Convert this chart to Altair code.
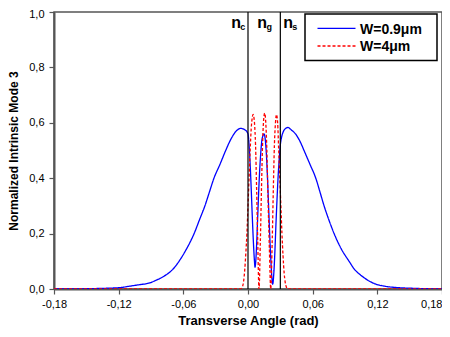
import altair as alt
import pandas as pd

# W=0.9um (blue, solid)
blue_x = [-0.18, -0.15, -0.13, -0.119, -0.11, -0.1, -0.093, -0.085, -0.0764, -0.07, -0.064,
          -0.057, -0.05, -0.045, -0.04, -0.0358, -0.0316, -0.026, -0.0207, -0.016, -0.011,
          -0.0068, -0.003, 0.0, 0.001, 0.002, 0.003, 0.004, 0.005, 0.006, 0.0065, 0.007,
          0.008, 0.009, 0.010, 0.011, 0.012, 0.013, 0.0149, 0.016, 0.017, 0.018, 0.019,
          0.020, 0.021, 0.022, 0.0229, 0.024, 0.025, 0.026, 0.027, 0.028, 0.029, 0.030,
          0.031, 0.033, 0.035, 0.0371, 0.040, 0.044, 0.048, 0.052, 0.0575, 0.0629, 0.0668,
          0.0706, 0.075, 0.0799, 0.0865, 0.0938, 0.099, 0.1046, 0.111, 0.117, 0.127, 0.139,
          0.15, 0.165, 0.18]
blue_y = [0.0, 0.001, 0.003, 0.005, 0.01, 0.016, 0.02, 0.032, 0.05, 0.07, 0.1,
          0.145, 0.2, 0.25, 0.3, 0.35, 0.4, 0.45, 0.5, 0.54, 0.57,
          0.58, 0.575, 0.56, 0.52, 0.45, 0.36, 0.26, 0.17, 0.1, 0.079, 0.09,
          0.16, 0.26, 0.36, 0.44, 0.5, 0.54, 0.56, 0.54, 0.49, 0.41, 0.31,
          0.21, 0.12, 0.05, 0.017, 0.06, 0.14, 0.24, 0.33, 0.41, 0.47, 0.52,
          0.545, 0.57, 0.58, 0.583, 0.575, 0.56, 0.535, 0.5, 0.45, 0.4, 0.35,
          0.3, 0.25, 0.2, 0.145, 0.1, 0.07, 0.05, 0.032, 0.02, 0.01, 0.005,
          0.003, 0.001, 0.0]

# W=4um (red, dashed)
red_x = [-0.18, -0.007, -0.005, -0.004, -0.003, -0.002, -0.001, 0.0, 0.001, 0.002, 0.003,
         0.004, 0.0047, 0.006, 0.007, 0.008, 0.009, 0.0102, 0.0115, 0.0125, 0.0135, 0.0145,
         0.0155, 0.0165, 0.0175, 0.0185, 0.0198, 0.0211, 0.0225, 0.0235, 0.0245, 0.0255,
         0.0264, 0.0275, 0.0285, 0.0295, 0.0305, 0.0315, 0.0325, 0.0335, 0.0345, 0.0355,
         0.0366, 0.18]
red_y = [0.0, 0.0, 0.01, 0.03, 0.07, 0.13, 0.2, 0.3, 0.4, 0.5, 0.58,
         0.62, 0.63, 0.6, 0.52, 0.36, 0.18, 0.0, 0.18, 0.36, 0.52, 0.61,
         0.635, 0.6, 0.5, 0.34, 0.15, 0.0, 0.18, 0.36, 0.52, 0.6,
         0.63, 0.6, 0.5, 0.4, 0.3, 0.2, 0.12, 0.06, 0.025, 0.008,
         0.0, 0.0]

series_names = ["W=0.9\u03bcm", "W=4\u03bcm"]
series_colors = ["#0000ff", "#ff0000"]
boundaries = [0.0, 0.03]

ann_main = ["n", "n", "n"]
ann_main_x = [-0.011, 0.0132, 0.0373]
ann_sub = ["c", "g", "s"]
ann_sub_x = [-0.0049, 0.0197, 0.0434]
ann_main_y = 0.941
ann_sub_y = 0.936

x_ticks = [-0.18, -0.15, -0.12, -0.09, -0.06, -0.03, 0.0, 0.03, 0.06, 0.09, 0.12, 0.15, 0.18]
y_ticks = [0.0, 0.1, 0.2, 0.3, 0.4, 0.5, 0.6, 0.7, 0.8, 0.9, 1.0]

df = pd.concat([
    pd.DataFrame({"x": blue_x, "y": blue_y, "s": series_names[0], "o": range(len(blue_x))}),
    pd.DataFrame({"x": red_x, "y": red_y, "s": series_names[1], "o": range(len(red_x))}),
])

FONT = "Liberation Sans"

xscale = alt.Scale(domain=[-0.18, 0.18], nice=False, zero=False)
yscale = alt.Scale(domain=[0, 1.0], nice=False)

x_label_expr = ("abs(round(datum.value*100)) % 6 == 0 ? "
                "replace(replace(format(datum.value, '.2f'), '.', ','), '\u2212', '-') : ''")
y_label_expr = ("round(datum.value*10) % 2 == 0 ? "
                "replace(format(datum.value, '.1f'), '.', ',') : ''")

color_scale = alt.Scale(domain=series_names, range=series_colors)
dash_scale = alt.Scale(domain=series_names, range=[[1, 0], [3, 2]])

lines = alt.Chart(df).mark_line(strokeWidth=1.3, clip=True, interpolate="monotone").encode(
    x=alt.X("x:Q", scale=xscale,
            axis=alt.Axis(values=x_ticks, labelExpr=x_label_expr, title="Transverse Angle (rad)",
                          grid=False, tickSize=5, labelPadding=4, titlePadding=5,
                          labelFontSize=11, titleFontSize=13, titleFontWeight="bold",
                          labelFont=FONT, titleFont=FONT, labelColor="#000", titleColor="#000",
                          domainColor="#555", domainWidth=2, tickColor="#555", tickWidth=1.2,
                          labelOverlap=False, labelFlush=False,
                          labelAlign={"condition": {"test": "datum.value > 0.17", "value": "right"},
                                      "value": "center"})),
    y=alt.Y("y:Q", scale=yscale,
            axis=alt.Axis(values=y_ticks, labelExpr=y_label_expr,
                          title="Normalized Intrinsic Mode 3",
                          grid=False, tickSize=5, labelPadding=5, titlePadding=8,
                          labelFontSize=11, titleFontSize=12, titleFontWeight="bold",
                          labelFont=FONT, titleFont=FONT, labelColor="#000", titleColor="#000",
                          domainColor="#555", domainWidth=2, tickColor="#555", tickWidth=1.2,
                          labelOverlap=False, labelFlush=False,
                          labelOffset={"condition": {"test": "datum.value > 0.95", "value": 2},
                                       "value": 0})),
    color=alt.Color("s:N", scale=color_scale, legend=None),
    strokeDash=alt.StrokeDash("s:N", scale=dash_scale, legend=None),
    order="o:Q",
)

rules = alt.Chart(pd.DataFrame({"x": boundaries})).mark_rule(color="#000", strokeWidth=1.2).encode(
    x=alt.X("x:Q", scale=xscale)
)

main_txt = alt.Chart(pd.DataFrame({"x": ann_main_x, "t": ann_main, "y": [ann_main_y] * 3})).mark_text(
    font=FONT, fontSize=16, fontWeight="bold", align="center", baseline="alphabetic", color="#000"
).encode(x=alt.X("x:Q", scale=xscale), y=alt.Y("y:Q", scale=yscale), text="t:N")

sub_txt = alt.Chart(pd.DataFrame({"x": ann_sub_x, "t": ann_sub, "y": [ann_sub_y] * 3})).mark_text(
    font=FONT, fontSize=9, fontWeight="bold", align="center", baseline="alphabetic", color="#000"
).encode(x=alt.X("x:Q", scale=xscale), y=alt.Y("y:Q", scale=yscale), text="t:N")

# legend drawn by hand (box, sample lines, labels)
legend_df = pd.DataFrame({"s": series_names, "row": [0, 1]})
leg_box = alt.Chart(pd.DataFrame({"a": [0]})).mark_rect(
    fill="white", stroke="#000", strokeWidth=1.5
).encode(x=alt.value(251), x2=alt.value(383), y=alt.value(2), y2=alt.value(48.6))
leg_line_blue = alt.Chart(legend_df.iloc[[0]]).mark_rule(strokeWidth=1.3).encode(
    x=alt.value(263.5), x2=alt.value(301.5), y=alt.value(16.3),
    color=alt.Color("s:N", scale=color_scale, legend=None),
    strokeDash=alt.StrokeDash("s:N", scale=dash_scale, legend=None),
)
leg_line_red = alt.Chart(legend_df.iloc[[1]]).mark_rule(strokeWidth=1.3).encode(
    x=alt.value(263.5), x2=alt.value(301.5), y=alt.value(34),
    color=alt.Color("s:N", scale=color_scale, legend=None),
    strokeDash=alt.StrokeDash("s:N", scale=dash_scale, legend=None),
)
leg_txt0 = alt.Chart(legend_df.iloc[[0]]).mark_text(
    font=FONT, fontSize=14, fontWeight="bold", align="left", baseline="alphabetic", color="#000"
).encode(x=alt.value(306), y=alt.value(22.3), text="s:N")
leg_txt1 = alt.Chart(legend_df.iloc[[1]]).mark_text(
    font=FONT, fontSize=14, fontWeight="bold", align="left", baseline="alphabetic", color="#000"
).encode(x=alt.value(306), y=alt.value(39.3), text="s:N")

chart = alt.layer(lines, rules, main_txt, sub_txt, leg_box, leg_line_blue, leg_line_red,
                  leg_txt0, leg_txt1).properties(
    width=388, height=277,
    autosize=alt.AutoSizeParams(type="none"),
    padding={"left": 46, "top": 4, "right": 0, "bottom": 40},
).configure_view(stroke="#555", strokeWidth=1.5)

chart.save("out.html", embed_options={"renderer": "svg", "actions": False})
